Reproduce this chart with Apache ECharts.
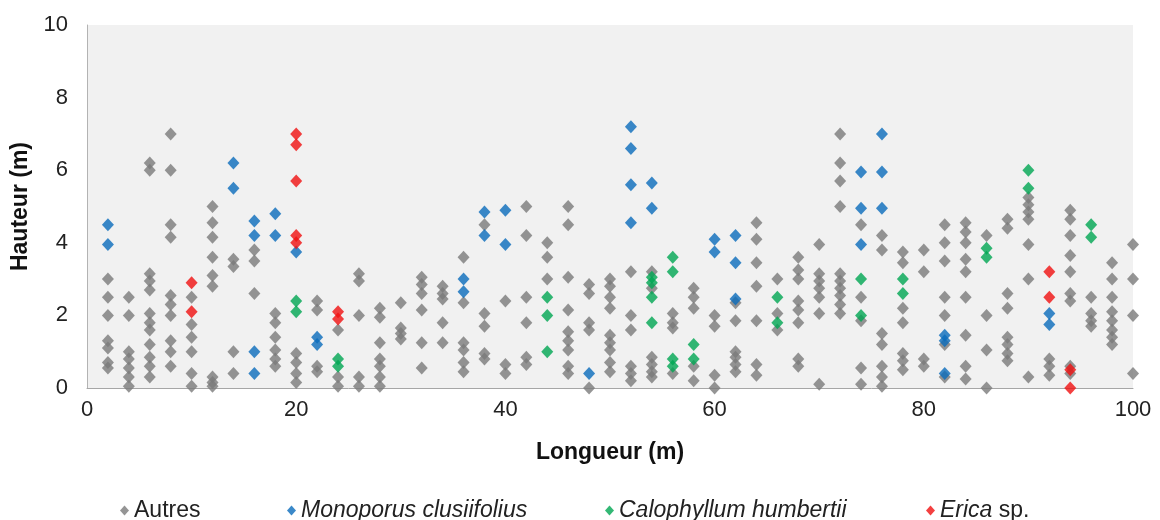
<!DOCTYPE html>
<html>
<head>
<meta charset="utf-8">
<title>Hauteur / Longueur</title>
<script src="https://cdn.jsdelivr.net/npm/echarts@6/dist/echarts.min.js"></script>
<style>
  html, body { margin: 0; padding: 0; background: #ffffff; }
  #chart { width: 1160px; height: 520px; }
</style>
</head>
<body>
<div id="chart"></div>
<script>
// Tree positions along the transect: [longueur (m), hauteur (m)]
const autres = [
  [2,3.0],[2,2.5],[2,2.0],[2,1.3],[2,1.1],[2,0.7],[2,0.55],
  [4,2.5],[4,2.0],[4,1.0],[4,0.8],[4,0.55],[4,0.3],[4,0.05],
  [6,6.2],[6,6.0],[6,3.15],[6,2.95],[6,2.7],[6,2.05],[6,1.8],[6,1.6],[6,1.2],[6,0.85],[6,0.6],[6,0.3],
  [8,7.0],[8,6.0],[8,4.5],[8,4.15],[8,2.55],[8,2.3],[8,2.0],[8,1.3],[8,1.0],[8,0.6],
  [10,2.5],[10,1.75],[10,1.4],[10,1.0],[10,0.4],[10,0.05],
  [12,5.0],[12,4.55],[12,4.15],[12,3.6],[12,3.1],[12,2.8],[12,0.3],[12,0.15],[12,0.05],
  [14,3.55],[14,3.35],[14,1.0],[14,0.4],
  [16,3.8],[16,3.5],[16,2.6],
  [18,2.05],[18,1.8],[18,1.4],[18,1.05],[18,0.8],[18,0.6],
  [20,0.95],[20,0.7],[20,0.4],[20,0.15],
  [22,2.4],[22,2.15],[22,0.6],[22,0.45],
  [24,1.6],[24,0.3],[24,0.05],
  [26,3.15],[26,2.95],[26,2.0],[26,0.3],[26,0.05],
  [28,2.2],[28,1.95],[28,1.25],[28,0.8],[28,0.6],[28,0.3],[28,0.05],
  [30,2.35],[30,1.65],[30,1.5],[30,1.35],
  [32,3.05],[32,2.85],[32,2.6],[32,2.15],[32,1.25],[32,0.55],
  [34,2.8],[34,2.6],[34,2.45],[34,1.8],[34,1.25],
  [36,3.6],[36,2.35],[36,1.25],[36,1.05],[36,0.7],[36,0.45],
  [38,4.5],[38,2.05],[38,1.7],[38,0.95],[38,0.8],
  [40,2.4],[40,0.65],[40,0.4],
  [42,5.0],[42,4.2],[42,2.5],[42,1.8],[42,0.85],[42,0.65],
  [44,4.0],[44,3.6],[44,3.0],
  [46,5.0],[46,4.5],[46,3.05],[46,2.15],[46,1.55],[46,1.3],[46,1.05],[46,0.6],[46,0.4],
  [48,2.85],[48,2.6],[48,1.8],[48,1.6],[48,0.0],
  [50,3.0],[50,2.8],[50,2.5],[50,2.2],[50,1.45],[50,1.25],[50,1.05],[50,0.7],[50,0.45],
  [52,3.2],[52,2.0],[52,1.6],[52,0.6],[52,0.4],[52,0.2],
  [54,3.2],[54,2.75],[54,0.85],[54,0.65],[54,0.45],[54,0.3],
  [56,2.05],[56,1.8],[56,1.65],[56,0.4],
  [58,2.75],[58,2.5],[58,2.2],[58,0.6],[58,0.2],
  [60,2.0],[60,1.7],[60,0.35],[60,0.0],
  [62,2.35],[62,1.85],[62,1.0],[62,0.85],[62,0.65],[62,0.45],
  [64,4.55],[64,4.1],[64,3.45],[64,2.8],[64,1.85],[64,0.65],[64,0.35],
  [66,3.0],[66,2.05],[66,1.6],
  [68,3.6],[68,3.25],[68,3.0],[68,2.4],[68,2.15],[68,1.8],[68,0.8],[68,0.6],
  [70,3.95],[70,3.15],[70,2.95],[70,2.75],[70,2.5],[70,2.05],[70,0.1],
  [72,7.0],[72,6.2],[72,5.7],[72,5.0],[72,3.15],[72,2.95],[72,2.75],[72,2.55],[72,2.3],[72,2.05],
  [74,4.5],[74,2.5],[74,1.85],[74,0.55],[74,0.1],
  [76,4.2],[76,3.8],[76,1.5],[76,1.2],[76,0.6],[76,0.3],[76,0.05],
  [78,3.75],[78,3.45],[78,2.2],[78,1.8],[78,0.95],[78,0.75],[78,0.5],
  [80,3.8],[80,3.2],[80,0.8],[80,0.6],
  [82,4.5],[82,4.0],[82,3.5],[82,2.5],[82,2.0],[82,1.2],[82,0.3],
  [84,4.55],[84,4.3],[84,4.0],[84,3.55],[84,3.2],[84,2.5],[84,1.45],[84,0.6],[84,0.25],
  [86,4.2],[86,2.0],[86,1.05],[86,0.0],
  [88,4.65],[88,4.4],[88,2.6],[88,2.2],[88,1.4],[88,1.2],[88,0.95],[88,0.75],
  [90,5.25],[90,5.05],[90,4.85],[90,4.65],[90,3.95],[90,3.0],[90,0.3],
  [92,0.8],[92,0.6],[92,0.35],
  [94,4.9],[94,4.65],[94,4.2],[94,3.65],[94,3.2],[94,2.6],[94,2.4],[94,0.6],[94,0.4],
  [96,2.5],[96,2.05],[96,1.85],[96,1.7],
  [98,3.45],[98,3.0],[98,2.5],[98,2.1],[98,1.85],[98,1.6],[98,1.4],[98,1.2],
  [100,3.95],[100,3.0],[100,2.0],[100,0.4]
];

const monoporus = [
  [2,4.5],[2,3.95],
  [14,6.2],[14,5.5],
  [16,4.6],[16,4.2],[16,1.0],[16,0.4],
  [18,4.8],[18,4.2],
  [20,3.75],
  [22,1.4],[22,1.2],
  [36,3.0],[36,2.65],
  [38,4.85],[38,4.2],
  [40,4.9],[40,3.95],
  [48,0.4],
  [52,7.2],[52,6.6],[52,5.6],[52,4.55],
  [54,5.65],[54,4.95],
  [60,4.1],[60,3.75],
  [62,4.2],[62,3.45],[62,2.45],
  [74,5.95],[74,4.95],[74,3.95],
  [76,7.0],[76,5.95],[76,4.95],
  [82,1.45],[82,1.3],[82,0.4],
  [92,2.05],[92,1.75]
];

const calophyllum = [
  [20,2.4],[20,2.1],
  [24,0.8],[24,0.6],
  [44,2.5],[44,2.0],[44,1.0],
  [54,3.05],[54,2.9],[54,2.5],[54,1.8],
  [56,3.6],[56,3.2],[56,0.8],[56,0.6],
  [58,1.2],[58,0.8],
  [66,2.5],[66,1.8],
  [74,3.0],[74,2.0],
  [78,3.0],[78,2.6],
  [86,3.85],[86,3.6],
  [90,6.0],[90,5.5],
  [96,4.5],[96,4.15]
];

const erica = [
  [10,2.9],[10,2.1],
  [20,7.0],[20,6.7],[20,5.7],[20,4.2],[20,4.0],
  [24,2.1],[24,1.9],
  [92,3.2],[92,2.5],
  [94,0.5],[94,0.0]
];

const seriesNames = ['Autres', 'Monoporus clusiifolius', 'Calophyllum humbertii', 'Erica sp.'];
const seriesData = [autres, monoporus, calophyllum, erica];
const seriesColors = ['#7a7a7a', '#0a6cbc', '#00a653', '#f01010'];

const FONT = '"Liberation Sans", Arial, sans-serif';

const chart = echarts.init(document.getElementById('chart'));

// one legend block per species so each entry sits at its own spot
const legendLefts = [120, 287, 605, 926];
const legends = seriesNames.map((name, i) => ({
  data: [name],
  left: legendLefts[i],
  top: 499,
  orient: 'horizontal',
  icon: 'diamond',
  itemWidth: 9,
  itemHeight: 10,
  itemGap: 0,
  padding: 0,
  selectedMode: false,
  formatter: (n) => n === 'Erica sp.' ? '{it|Erica}{rm| sp.}' : n,
  textStyle: {
    fontFamily: FONT,
    fontSize: 23,
    color: '#222',
    fontStyle: i === 1 || i === 2 ? 'italic' : 'normal',
    rich: {
      it: { fontFamily: FONT, fontSize: 23, color: '#222', fontStyle: 'italic' },
      rm: { fontFamily: FONT, fontSize: 23, color: '#222', fontStyle: 'normal' }
    }
  }
}));

chart.setOption({
  animation: false,
  backgroundColor: '#ffffff',
  legend: legends,
  grid: {
    left: 87,
    right: 27,
    top: 25,
    bottom: 132,
    show: true,
    backgroundColor: '#f1f1f1',
    borderWidth: 0
  },
  xAxis: {
    type: 'value',
    min: 0,
    max: 100,
    interval: 20,
    name: 'Longueur (m)',
    nameLocation: 'middle',
    nameGap: 53,
    nameTextStyle: { fontFamily: FONT, fontSize: 23, fontWeight: 'bold', color: '#111' },
    axisLine: { show: true, lineStyle: { color: '#a6a6a6', width: 1 } },
    axisTick: { show: false },
    splitLine: { show: false },
    axisLabel: { fontFamily: FONT, fontSize: 22, color: '#222', margin: 11 }
  },
  yAxis: {
    type: 'value',
    min: 0,
    max: 10,
    interval: 2,
    name: 'Hauteur (m)',
    nameLocation: 'middle',
    nameGap: 51,
    nameRotate: 90,
    nameTextStyle: { fontFamily: FONT, fontSize: 23, fontWeight: 'bold', color: '#111' },
    axisLine: { show: true, lineStyle: { color: '#b3b3b3', width: 1 } },
    axisTick: { show: false },
    splitLine: { show: false },
    axisLabel: { fontFamily: FONT, fontSize: 22, color: '#222', margin: 19 }
  },
  series: seriesNames.map((name, i) => ({
    name: name,
    type: 'scatter',
    data: seriesData[i],
    symbol: 'diamond',
    symbolSize: [12, 13],
    clip: false,
    itemStyle: { color: seriesColors[i] },
    emphasis: { disabled: true }
  }))
});
</script>
</body>
</html>
